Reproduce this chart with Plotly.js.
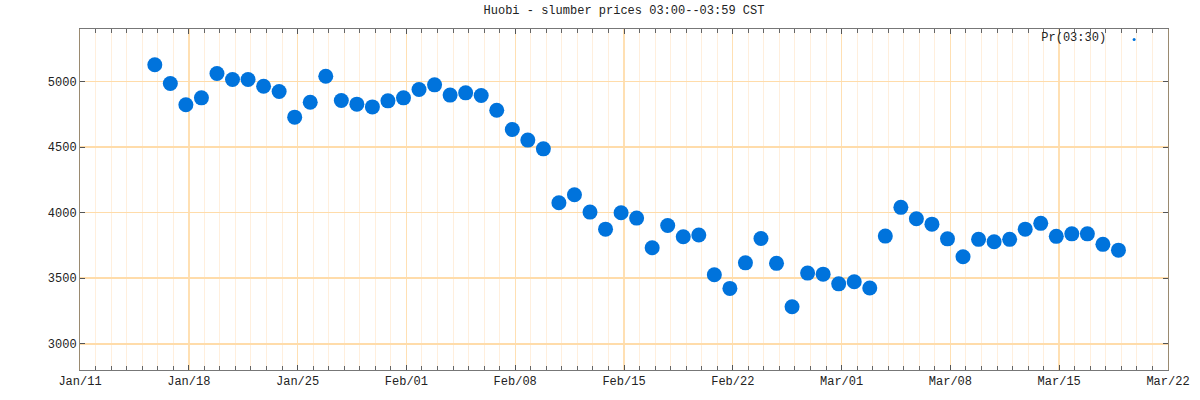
<!DOCTYPE html>
<html>
<head>
<meta charset="utf-8">
<script src="https://cdn.plot.ly/plotly-3.0.1.min.js"></script>
<style>html,body{margin:0;padding:0;background:#fff;}#chart{width:1200px;height:400px;}</style>
</head>
<body>
<div id="chart"></div>
<script>
// Sample times (03:30 CST = 19:30 UTC of the previous day)
const times = [
  '2018-01-15 19:30','2018-01-16 19:30','2018-01-17 19:30','2018-01-18 19:30','2018-01-19 19:30',
  '2018-01-20 19:30','2018-01-21 19:30','2018-01-22 19:30','2018-01-23 19:30','2018-01-24 19:30',
  '2018-01-25 19:30','2018-01-26 19:30','2018-01-27 19:30','2018-01-28 19:30','2018-01-29 19:30',
  '2018-01-30 19:30','2018-01-31 19:30','2018-02-01 19:30','2018-02-02 19:30','2018-02-03 19:30',
  '2018-02-04 19:30','2018-02-05 19:30','2018-02-06 19:30','2018-02-07 19:30','2018-02-08 19:30',
  '2018-02-09 19:30','2018-02-10 19:30','2018-02-11 19:30','2018-02-12 19:30','2018-02-13 19:30',
  '2018-02-14 19:30','2018-02-15 19:30','2018-02-16 19:30','2018-02-17 19:30','2018-02-18 19:30',
  '2018-02-19 19:30','2018-02-20 19:30','2018-02-21 19:30','2018-02-22 19:30','2018-02-23 19:30',
  '2018-02-24 19:30','2018-02-25 19:30','2018-02-26 19:30','2018-02-27 19:30','2018-02-28 19:30',
  '2018-03-01 19:30','2018-03-02 19:30','2018-03-03 19:30','2018-03-04 19:30','2018-03-05 19:30',
  '2018-03-06 19:30','2018-03-07 19:30','2018-03-08 19:30','2018-03-09 19:30','2018-03-10 19:30',
  '2018-03-11 19:30','2018-03-12 19:30','2018-03-13 19:30','2018-03-14 19:30','2018-03-15 19:30',
  '2018-03-16 19:30','2018-03-17 19:30','2018-03-18 19:30'
];
const prices = [
  5127, 4985, 4822, 4875, 5061, 5015, 5015, 4964, 4924, 4728,
  4842, 5040, 4855, 4827, 4806, 4852, 4875, 4939, 4974, 4896,
  4913, 4893, 4781, 4634, 4553, 4486, 4075, 4136, 4004, 3874,
  3999, 3958, 3732, 3902, 3816, 3829, 3526, 3422, 3617, 3803,
  3613, 3282, 3539, 3531, 3457, 3473, 3425, 3821, 4040, 3953,
  3912, 3800, 3663, 3796, 3778, 3796, 3874, 3918, 3819, 3838,
  3838, 3758, 3714
];
const seriesName = 'Pr(03:30)';
const chartTitle = 'Huobi - slumber prices 03:00--03:59 CST';
const xRange = ['2018-01-11', '2018-03-22'];
const yRange = [2800, 5400];
const yTicks = [3000, 3500, 4000, 4500, 5000];

const mono = 'Liberation Mono, Courier New, monospace';
const blue = '#0073dc';

const traces = [
  {
    x: times, y: prices, type: 'scatter', mode: 'markers',
    marker: {color: blue, size: 15},
    showlegend: false, hoverinfo: 'x+y'
  },
  {
    x: [null], y: [null], type: 'scatter', mode: 'markers',
    name: '', marker: {color: blue, size: 3}, showlegend: true
  }
];

const layout = {
  width: 1200, height: 400,
  margin: {l: 80, r: 32, t: 29, b: 30},
  paper_bgcolor: '#ffffff', plot_bgcolor: '#ffffff',
  font: {family: mono, size: 12, color: '#222'},
  title: {text: chartTitle, font: {family: mono, size: 12, color: '#222'},
          xref: 'paper', x: 0.5, xanchor: 'center', yref: 'container', y: 0.975, yanchor: 'middle'},
  xaxis: {
    type: 'date', range: xRange,
    tick0: '2018-01-11', dtick: 7 * 86400000, tickformat: '%b/%d',
    showgrid: true, gridcolor: '#ffe0b3', gridwidth: 1.4,
    ticks: 'inside', ticklen: 5, tickcolor: '#555', mirror: 'ticks',
    showline: true, linecolor: '#777', linewidth: 1,
    minor: {dtick: 86400000, tick0: '2018-01-11', showgrid: true, gridcolor: '#ffefdd', gridwidth: 1,
            ticks: 'inside', ticklen: 4, tickcolor: '#666'},
    tickfont: {family: mono, size: 12, color: '#222'},
    zeroline: false, fixedrange: true
  },
  yaxis: {
    range: yRange, tickvals: yTicks, ticktext: yTicks.map(String),
    showgrid: true, gridcolor: '#ffdcaa', gridwidth: 1.6,
    ticks: 'inside', ticklen: 5, tickcolor: '#555', mirror: 'ticks',
    showline: true, linecolor: '#9a8a70', linewidth: 1,
    tickfont: {family: mono, size: 12, color: '#222'},
    zeroline: false, fixedrange: true
  },
  showlegend: true,
  legend: {
    x: 0.992, xanchor: 'right', y: 1.012, yanchor: 'top',
    bgcolor: 'rgba(0,0,0,0)', borderwidth: 0,
    orientation: 'h',
    title: {text: seriesName, side: 'left', font: {family: mono, size: 12, color: '#222'}},
    font: {family: mono, size: 12}
  }
};

Plotly.newPlot('chart', traces, layout, {displayModeBar: false, staticPlot: true});
</script>
</body>
</html>
